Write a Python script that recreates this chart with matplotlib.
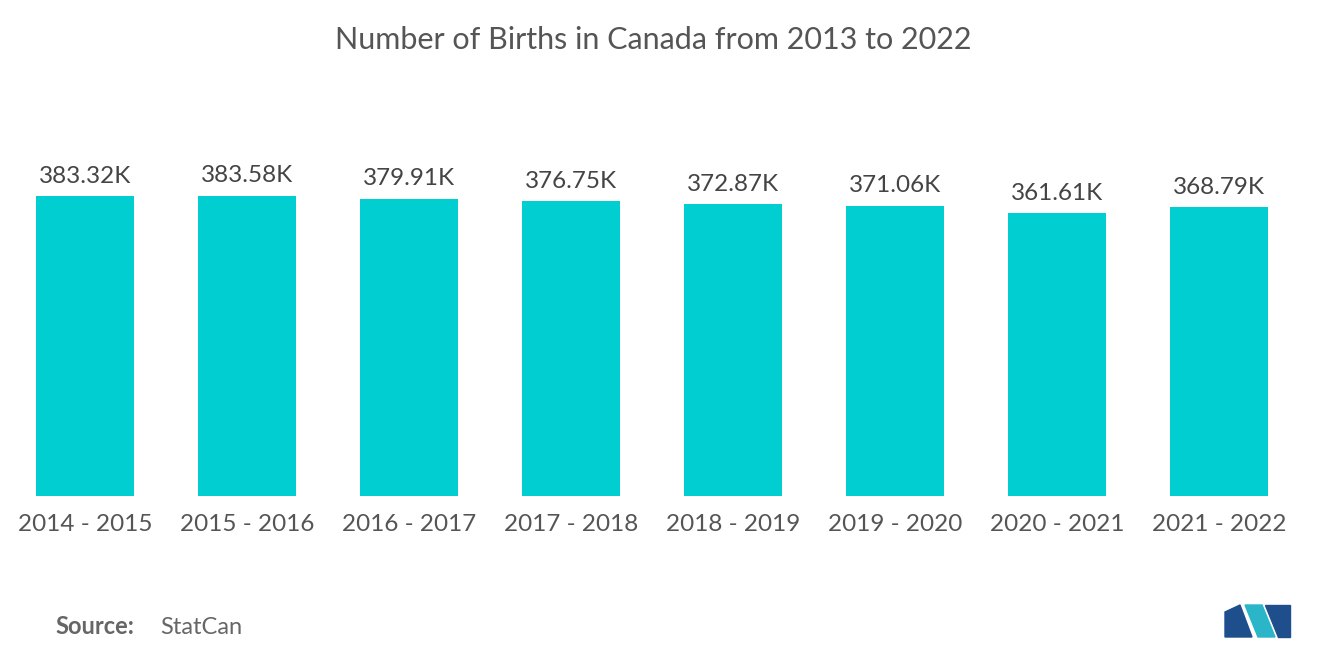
import matplotlib.pyplot as plt
from matplotlib.patches import Polygon

periods = ['2014 - 2015', '2015 - 2016', '2016 - 2017', '2017 - 2018',
           '2018 - 2019', '2019 - 2020', '2020 - 2021', '2021 - 2022']
births_k = [383.32, 383.58, 379.91, 376.75, 372.87, 371.06, 361.61, 368.79]

W, H = 1320, 665
fig = plt.figure(figsize=(W / 100, H / 100), dpi=100)
ax = fig.add_axes([4 / W, 169 / H, 1296 / W, 313 / H])

x = range(len(periods))
ax.bar(x, births_k, width=0.6, color='#00CED1')
for xi, v in zip(x, births_k):
    ax.text(xi, v + 12, f'{v:.2f}K', ha='center', va='bottom',
            fontsize=17.5, color='#444444', family='Lato')

ax.set_xlim(-0.5, len(periods) - 0.5)
ax.set_ylim(0, 400)
ax.set_xticks(list(x))
ax.set_xticklabels(periods, fontsize=17.5, color='#555555', family='Lato')
ax.tick_params(axis='x', length=0, pad=13)
ax.set_yticks([])
for s in ax.spines.values():
    s.set_visible(False)

fig.text(0.495, 1 - 40 / H, 'Number of Births in Canada from 2013 to 2022',
         ha='center', va='center', fontsize=22, color='#555555', family='Lato')
fig.text(55 / W, 1 - 627 / H, 'Source:', ha='left', va='center',
         fontsize=17, color='#666666', family='Lato', weight='bold')
fig.text(160 / W, 1 - 627 / H, 'StatCan', ha='left', va='center',
         fontsize=17, color='#666666', family='Lato')

# logo
def px(pts):
    return [(a / W, 1 - b / H) for a, b in pts]
fig.patches.append(Polygon(px([(1225, 637), (1225, 612), (1240, 605), (1252, 637)]),
                           closed=True, color='#1F4E8C', transform=fig.transFigure))
fig.patches.append(Polygon(px([(1245, 605), (1262, 605), (1275, 637), (1258, 637)]),
                           closed=True, color='#2BB5C8', transform=fig.transFigure))
fig.patches.append(Polygon(px([(1265, 605), (1290, 605), (1290, 637), (1278, 637)]),
                           closed=True, color='#1F4E8C', transform=fig.transFigure))

fig.savefig('out.png', dpi=100)
